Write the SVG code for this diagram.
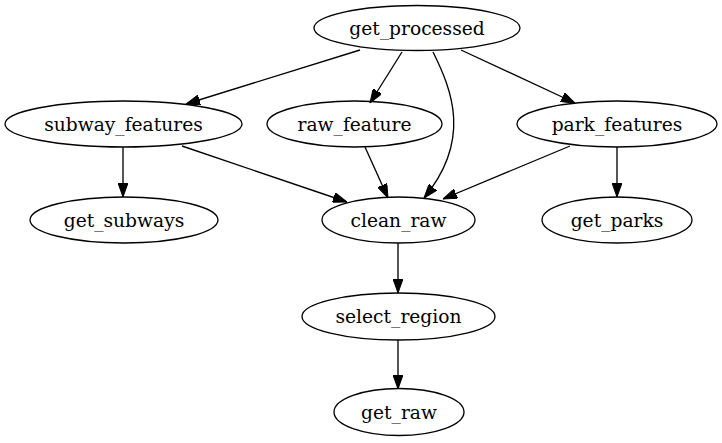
<svg xmlns="http://www.w3.org/2000/svg" width="722" height="443" viewBox="0 0 722 443">
<style>
.node ellipse{fill:none;stroke:#000;stroke-width:1.33}
.node text{font-family:"DejaVu Serif","Liberation Serif",serif;font-size:18.67px;text-anchor:middle;fill:#000}
.edge{fill:none;stroke:#000;stroke-width:1.33;marker-end:url(#ah)}
</style>
<defs>
<marker id="ah" markerUnits="userSpaceOnUse" markerWidth="14" markerHeight="10" viewBox="0 0 14 10" refX="14" refY="5" orient="auto">
<polygon points="0,0 14,5 0,10" fill="#000" stroke="#000" stroke-width="1"/>
</marker>
</defs>
<rect width="722" height="443" fill="#fff"/>
<g id="connectors">
<path class="edge" d="M360,50 L186,104"/>
<path class="edge" d="M402,52 L370,103"/>
<path class="edge" d="M433,52 C452,90 472,140 424,198"/>
<path class="edge" d="M461,50 L575,103"/>
<path class="edge" d="M123,147 L123,197"/>
<path class="edge" d="M182,146 L347,202"/>
<path class="edge" d="M365,147 L388,198"/>
<path class="edge" d="M570,146 L443,199"/>
<path class="edge" d="M617,147 L617,197"/>
<path class="edge" d="M398,243 L398,293"/>
<path class="edge" d="M398,340 L398,389"/>
</g>
<g id="get_processed" class="node"><ellipse cx="417" cy="28" rx="103" ry="22.5"/><text x="417" y="34.5">get_processed</text></g>
<g id="subway_features" class="node"><ellipse cx="123.5" cy="124" rx="118.5" ry="23"/><text x="123.5" y="130.5">subway_features</text></g>
<g id="raw_feature" class="node"><ellipse cx="354.5" cy="124" rx="87.5" ry="23"/><text x="354.5" y="130.5">raw_feature</text></g>
<g id="park_features" class="node"><ellipse cx="617" cy="124" rx="100" ry="23"/><text x="617" y="130.5">park_features</text></g>
<g id="get_subways" class="node"><ellipse cx="124" cy="220" rx="94" ry="23"/><text x="124" y="226.5">get_subways</text></g>
<g id="clean_raw" class="node"><ellipse cx="398.5" cy="220" rx="76.5" ry="23"/><text x="398.5" y="226.5">clean_raw</text></g>
<g id="get_parks" class="node"><ellipse cx="617" cy="220" rx="75" ry="23"/><text x="617" y="226.5">get_parks</text></g>
<g id="select_region" class="node"><ellipse cx="398.5" cy="316.5" rx="96.5" ry="23.5"/><text x="398.5" y="323">select_region</text></g>
<g id="get_raw" class="node"><ellipse cx="399" cy="412" rx="65" ry="23.5"/><text x="399" y="418.5">get_raw</text></g>
</svg>
